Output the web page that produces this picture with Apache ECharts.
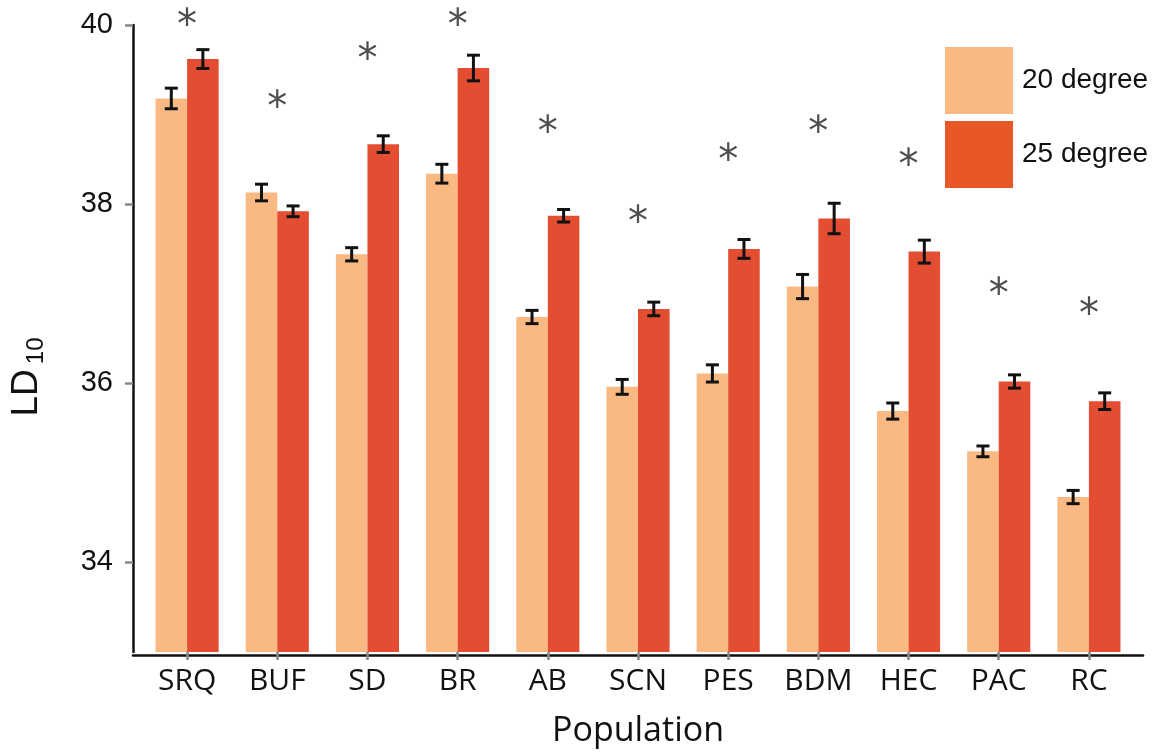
<!DOCTYPE html>
<html>
<head>
<meta charset="utf-8">
<script src="https://cdn.jsdelivr.net/npm/echarts@6/dist/echarts.min.js"></script>
<style>
  html, body { margin: 0; padding: 0; background: #fff; }
  #chart { width: 1167px; height: 753px; }
</style>
</head>
<body>
<div id="chart"></div>
<script>
// populations along the x axis
const categories = ['SRQ', 'BUF', 'SD', 'BR', 'AB', 'SCN', 'PES', 'BDM', 'HEC', 'PAC', 'RC'];
// mean LD10 at each temperature
const ld20 = [39.18, 38.13, 37.44, 38.34, 36.74, 35.96, 36.11, 37.08, 35.69, 35.24, 34.73];
const ld25 = [39.62, 37.92, 38.67, 39.52, 37.87, 36.83, 37.50, 37.84, 37.47, 36.02, 35.80];
// standard errors
const err20 = [0.115, 0.093, 0.074, 0.105, 0.074, 0.083, 0.096, 0.135, 0.09, 0.06, 0.074];
const err25 = [0.105, 0.06, 0.093, 0.143, 0.07, 0.076, 0.105, 0.17, 0.128, 0.074, 0.093];
// height of the significance marks
const starY = [40.08, 39.17, 39.70, 40.08, 38.89, 37.88, 38.58, 38.89, 38.52, 37.08, 36.86];
const yTicks = [34, 36, 38, 40];

const LIGHT = '#FAB982';
const DARK = '#E34E33';
const DARK_KEY = '#E85726';
const BAR_SHARE = 0.35;

const chart = echarts.init(document.getElementById('chart'));

// error bars drawn on top of each bar; side -1 = left bar, +1 = right bar
function errorBars(name, values, errs, side) {
  return {
    name: name,
    type: 'custom',
    z: 10,
    encode: { x: 0, y: [1, 2] },
    renderItem: (params, api) => {
      const i = api.value(0);
      const lo = api.coord([i, api.value(1)]);
      const hi = api.coord([i, api.value(2)]);
      const band = api.size([1, 0])[0];
      const x = lo[0] + side * band * BAR_SHARE / 2;
      const cap = 6.5;
      const style = { stroke: '#111', lineWidth: 3 };
      return {
        type: 'group',
        children: [
          { type: 'line', shape: { x1: x, y1: hi[1], x2: x, y2: lo[1] }, style: style },
          { type: 'line', shape: { x1: x - cap, y1: hi[1], x2: x + cap, y2: hi[1] }, style: style },
          { type: 'line', shape: { x1: x - cap, y1: lo[1], x2: x + cap, y2: lo[1] }, style: style }
        ]
      };
    },
    data: values.map((v, i) => [i, v - errs[i], v + errs[i]])
  };
}

const option = {
  animation: false,
  backgroundColor: '#fff',
  grid: [
    { left: 142, right: 33, top: 25, bottom: 98 },
    { left: 133, right: 24, top: 25, bottom: 98 }
  ],
  legend: {
    orient: 'vertical',
    left: 945,
    top: 47,
    padding: 0,
    itemWidth: 68,
    itemHeight: 67,
    itemGap: 7,
    icon: 'rect',
    data: [
      { name: '20 degree', itemStyle: { color: LIGHT } },
      { name: '25 degree', itemStyle: { color: DARK_KEY } }
    ],
    textStyle: {
      fontFamily: 'Liberation Sans',
      fontSize: 28,
      color: '#111',
      padding: [0, 0, 0, 4]
    }
  },
  xAxis: [
    {
      type: 'category',
      gridIndex: 0,
      data: categories,
      axisLine: { show: false },
      axisTick: { show: true, alignWithLabel: true, length: 8, lineStyle: { color: '#888', width: 2.5 } },
      axisLabel: { fontFamily: 'Open Sans', fontSize: 30, color: '#111', margin: 14 },
      name: 'Population',
      nameLocation: 'middle',
      nameGap: 62,
      nameTextStyle: { fontFamily: 'Open Sans', fontSize: 34, color: '#111' }
    },
    {
      type: 'value',
      gridIndex: 1,
      min: 0,
      max: 1,
      axisLine: { show: true, lineStyle: { color: '#111', width: 2.5 } },
      axisTick: { show: false },
      axisLabel: { show: false },
      splitLine: { show: false }
    }
  ],
  yAxis: [
    {
      type: 'value',
      gridIndex: 0,
      min: 33,
      max: 40,
      offset: 9,
      axisLine: { show: true, lineStyle: { color: '#111', width: 2.5 } },
      axisTick: { show: true, length: 8, customValues: yTicks, lineStyle: { color: '#888', width: 2.5 } },
      axisLabel: { fontFamily: 'Liberation Sans', fontSize: 29, color: '#111', margin: 20, customValues: yTicks },
      splitLine: { show: false },
      name: '{a|LD}{b|10}',
      nameLocation: 'middle',
      nameGap: 85,
      nameTextStyle: {
        color: '#111',
        padding: [0, 77, 0, 0],
        rich: {
          a: { fontFamily: 'Liberation Sans', fontSize: 37, color: '#111' },
          b: { fontFamily: 'Liberation Sans', fontSize: 24, color: '#111', padding: [18, 0, 0, 5] }
        }
      }
    },
    { type: 'value', gridIndex: 1, show: false, min: 0, max: 1 }
  ],
  series: [
    {
      name: '20 degree',
      type: 'bar',
      data: ld20,
      barWidth: (BAR_SHARE * 100) + '%',
      barGap: '0%',
      itemStyle: { color: LIGHT }
    },
    {
      name: '25 degree',
      type: 'bar',
      data: ld25,
      barWidth: (BAR_SHARE * 100) + '%',
      barGap: '0%',
      itemStyle: { color: DARK }
    },
    errorBars('err20', ld20, err20, -1),
    errorBars('err25', ld25, err25, 1),
    {
      name: 'significance',
      type: 'scatter',
      clip: false,
      z: 11,
      symbolSize: 1,
      itemStyle: { color: 'rgba(0,0,0,0)' },
      data: starY.map((v, i) => [i, v]),
      label: {
        show: true,
        position: 'inside',
        formatter: '*',
        fontFamily: 'DejaVu Sans',
        fontSize: 40,
        color: '#222',
        offset: [0, 10]
      }
    }
  ]
};

chart.setOption(option);
</script>
</body>
</html>
